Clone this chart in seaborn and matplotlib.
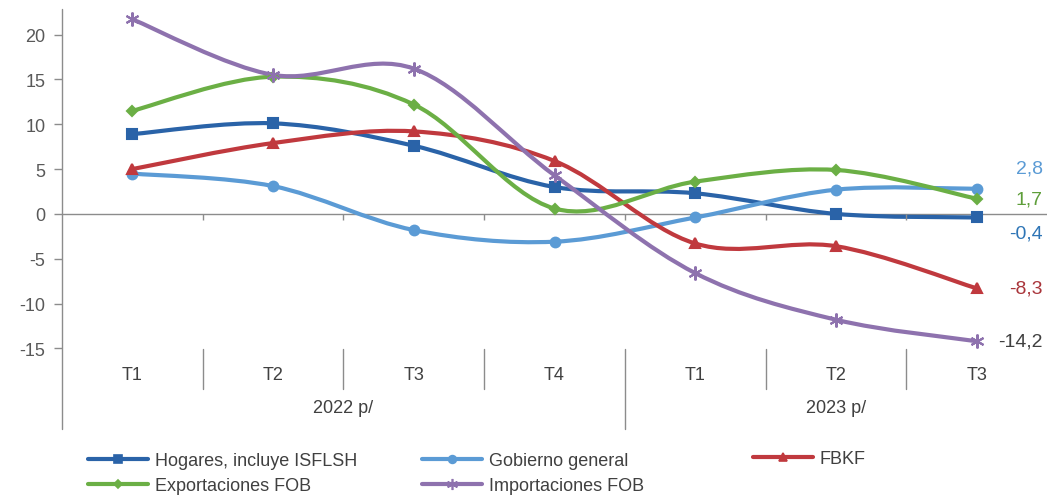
import numpy as np
import seaborn as sns
import matplotlib.pyplot as plt
from matplotlib.path import Path
from matplotlib.patches import PathPatch
from matplotlib.lines import Line2D

quarters = ["T1", "T2", "T3", "T4", "T1", "T2", "T3"]
years = ["2022 p/", "2023 p/"]
year_sizes = [4, 3]

hogares = [8.9, 10.1, 7.6, 3.0, 2.3, 0.0, -0.4]
gobierno = [4.5, 3.1, -1.8, -3.1, -0.4, 2.7, 2.8]
fbkf = [5.0, 7.9, 9.2, 5.9, -3.3, -3.6, -8.3]
exportaciones = [11.5, 15.3, 12.2, 0.6, 3.6, 4.9, 1.7]
importaciones = [21.7, 15.5, 16.2, 4.3, -6.6, -11.8, -14.2]

names = ["Hogares, incluye ISFLSH", "Gobierno general", "FBKF",
         "Exportaciones FOB", "Importaciones FOB"]
series = [hogares, gobierno, fbkf, exportaciones, importaciones]
colors = ["#2A63A8", "#5B9BD5", "#C0393E", "#6BAF45", "#8E72AE"]
markers = ["s", "o", "^", "D", (6, 2, 0)]
msizes = [7.5, 7, 7.5, 5.5, 10]
end_colors = ["#2E75B6", "#5B9BD5", "#A9343A", "#5E9E3A", "#404040"]
end_dy = [-11, 15, 0, 0, 0]

sns.set_style("white")
plt.rcParams["font.family"] = ["Liberation Sans", "DejaVu Sans"]
plt.rcParams["axes.unicode_minus"] = False

W, H = 1047, 502
fig = plt.figure(figsize=(W / 100, H / 100), dpi=100)
ax = fig.add_axes([62 / W, 1 - 353 / H, (W - 62) / W, (353 - 10) / H])

x = np.arange(len(quarters))
gray = "#8C8C8C"


def smooth_path(xs, ys):
    # Excel-style smoothed line: cubic Bezier through every point
    pts = np.column_stack([xs, ys]).astype(float)
    n = len(pts)
    verts = [pts[0]]
    codes = [Path.MOVETO]
    for i in range(n - 1):
        p0 = pts[max(i - 1, 0)]
        p1 = pts[i]
        p2 = pts[i + 1]
        p3 = pts[min(i + 2, n - 1)]
        verts += [p1 + (p2 - p0) / 6, p2 - (p3 - p1) / 6, p2]
        codes += [Path.CURVE4] * 3
    return Path(verts, codes)


ax.axhline(0, color=gray, lw=1, zorder=1)

for vals, c, m, ms in zip(series, colors, markers, msizes):
    ax.add_patch(PathPatch(smooth_path(x, vals), fill=False, edgecolor=c,
                           lw=3.0, capstyle="round", joinstyle="round", zorder=2))
    sns.lineplot(x=x, y=vals, ax=ax, color=c, marker=m, markersize=ms,
                 markeredgecolor=c, markeredgewidth=1.5, linewidth=0,
                 legend=False, zorder=3)

for vals, c, dy in zip(series, end_colors, end_dy):
    v = vals[-1]
    ax.annotate(f"{v:.1f}".replace(".", ","), xy=(6.47, v), xytext=(0, dy),
                textcoords="offset points", ha="right", va="center",
                color=c, fontsize=14, annotation_clip=False)

ax.set_xlim(-0.5, 6.5)
ax.set_ylim(-15.4, 22.85)
ax.set_yticks(range(-15, 21, 5))
ax.set_xticks([])
ax.tick_params(axis="y", length=6, width=1, color=gray, labelsize=13,
               labelcolor="#595959", pad=6, left=True)
for s in ax.spines.values():
    s.set_visible(False)
ax.grid(False)

# value axis line, running down through the category label area
ax.plot([0, 0], [1.0, -0.2245], transform=ax.transAxes, color=gray,
        lw=1, clip_on=False)

# small ticks on the zero line between categories
ax.vlines(np.arange(0.5, 6.5, 1), -0.65, 0, color=gray, lw=1)

# multi level category labels
xt = ax.get_xaxis_transform()
for b in [0.5, 1.5, 2.5, 4.5, 5.5]:
    ax.plot([b, b], [0.009, -0.108], transform=xt, color=gray, lw=1,
            clip_on=False)
ax.plot([3.5, 3.5], [0.009, -0.2245], transform=xt, color=gray, lw=1,
        clip_on=False)
for xi, q in zip(x, quarters):
    ax.text(xi, -0.067, q, transform=xt, ha="center", va="center",
            fontsize=13, color="#404040")
start = 0
for yr, size in zip(years, year_sizes):
    ax.text(start + (size - 1) / 2, -0.163, yr, transform=xt, ha="center",
            va="center", fontsize=13, color="#404040")
    start += size

# legend in three columns
handles = [Line2D([], [], color=c, lw=3.0, marker=m, markersize=ms * 0.8,
                  markeredgecolor=c, markeredgewidth=1.2)
           for c, m, ms in zip(colors, markers, msizes)]
cols = [([0, 3], 88, 474), ([1, 4], 422, 474), ([2], 753, 460)]
for idx, lx, ly in cols:
    fig.legend([handles[i] for i in idx], [names[i] for i in idx],
               loc="center left", bbox_to_anchor=(lx / W, 1 - ly / H),
               frameon=False, fontsize=13, handlelength=3.3,
               handletextpad=0.4, labelspacing=0.45, borderpad=0,
               borderaxespad=0, labelcolor="#404040")

fig.savefig("out.png", dpi=100)
